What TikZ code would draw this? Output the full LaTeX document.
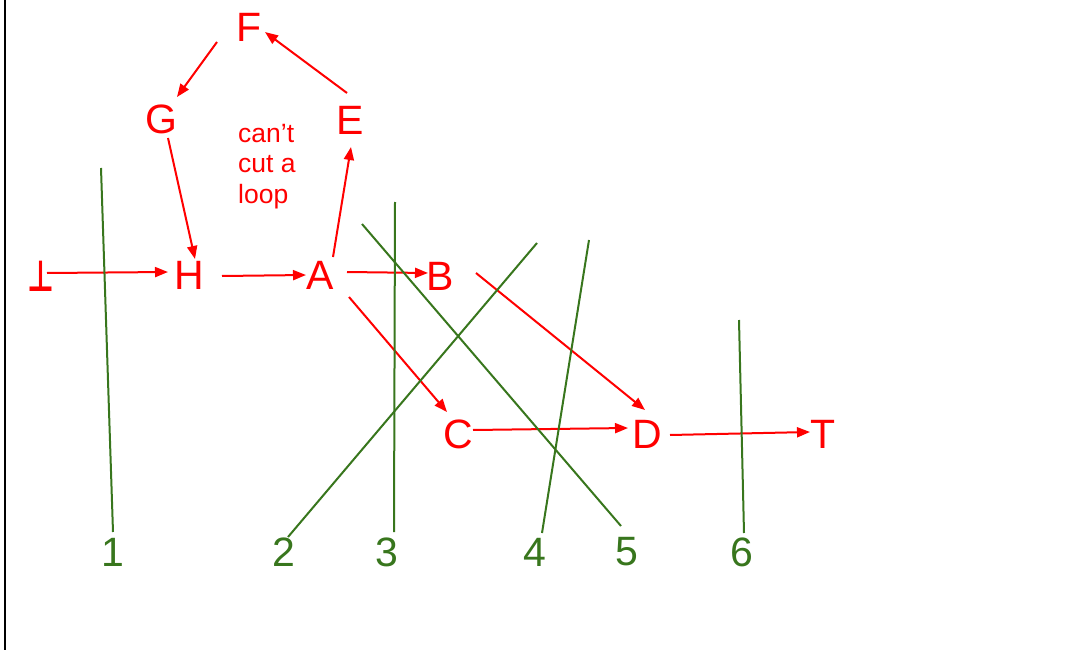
\documentclass[tikz,border=0pt]{standalone}
\usepackage{fontspec}
\setmainfont{Liberation Sans}
\newfontfamily\dejavu{DejaVu Sans}
\usetikzlibrary{arrows.meta,calc}
\definecolor{cutgreen}{HTML}{38761D}
\begin{document}
\begin{tikzpicture}[x=1pt,y=-1pt,
  lbl/.style={text=red,font=\fontsize{41}{41}\selectfont,inner sep=0pt},
  cutlbl/.style={text=cutgreen,font=\fontsize{41}{41}\selectfont,inner sep=0pt},
  note/.style={text=red,font=\fontsize{26.5}{30.5}\selectfont,inner sep=0pt,align=left},
  arr/.style={draw=red,line width=2pt,-{Triangle[length=13pt,width=10pt]}},
  cut/.style={draw=cutgreen,line width=2pt}]
\useasboundingbox (0,0) rectangle (1082,650);
\draw[line width=1.2pt] (5,0) -- (5,650);

% graph nodes
\node[lbl] (bot) at (41,276) {\dejavu\bfseries\scalebox{0.72}[1.05]{⊥}};
\node[lbl] (H) at (189,275) {H};
\node[lbl] (A) at (320,275) {A};
\node[lbl] (B) at (440,276) {B};
\node[lbl] (C) at (458,434) {C};
\node[lbl] (D) at (647,434) {D};
\node[lbl] (T) at (823,434) {T};
\node[lbl] (E) at (350,120) {E};
\node[lbl] (F) at (249,27) {F};
\node[lbl] (G) at (161,119) {G};
\node[note,anchor=north west] (loop) at (238,124) {can’t\\cut a\\loop};

% arrows
\draw[arr] ($(bot)+(6,-3)$) -- ($(H)+(-21,-3)$);
\draw[arr] ($(H)+(33,1)$) -- ($(A)+(-14,0)$);
\draw[arr] ($(A)+(13,-18)$) -- ($(E)+(1,27)$);
\draw[arr] ($(E)+(-3,-27)$) -- ($(F)+(16,5)$);
\draw[arr] ($(F)+(-32,15)$) -- ($(G)+(16,-22)$);
\draw[arr] ($(G)+(7,19)$) -- ($(H)+(6,-16)$);
\draw[arr] ($(A)+(27,-3)$) -- ($(B)+(-12,-3)$);
\draw[arr] ($(A)+(29,22)$) -- ($(C)+(-11,-22)$);
\draw[arr] ($(B)+(36,-3)$) -- ($(D)+(-2,-24)$);
\draw[arr] ($(C)+(15,-4)$) -- ($(D)+(-19,-6)$);
\draw[arr] ($(D)+(23,1)$) -- ($(T)+(-13,-2)$);

% cuts
\coordinate (c1t) at (101,168); \coordinate (c1b) at (113,532);
\coordinate (c2t) at (537,243); \coordinate (c2b) at (288,537);
\coordinate (c3t) at (395,202); \coordinate (c3b) at (394,532);
\coordinate (c4t) at (589,240); \coordinate (c4b) at (542,533);
\coordinate (c5t) at (362,224); \coordinate (c5b) at (621,526);
\coordinate (c6t) at (739,320); \coordinate (c6b) at (744,533);
\draw[cut] (c1t) -- (c1b);
\draw[cut] (c2t) -- (c2b);
\draw[cut] (c3t) -- (c3b);
\draw[cut] (c4t) -- (c4b);
\draw[cut] (c5t) -- (c5b);
\draw[cut] (c6t) -- (c6b);
\node[cutlbl] (n1) at (113,552) {1};
\node[cutlbl] (n2) at (284,552) {2};
\node[cutlbl] (n3) at (387,552) {3};
\node[cutlbl] (n4) at (535,552) {4};
\node[cutlbl] (n5) at (627,552) {5};
\node[cutlbl] (n6) at (742,552) {6};
\end{tikzpicture}
\end{document}
